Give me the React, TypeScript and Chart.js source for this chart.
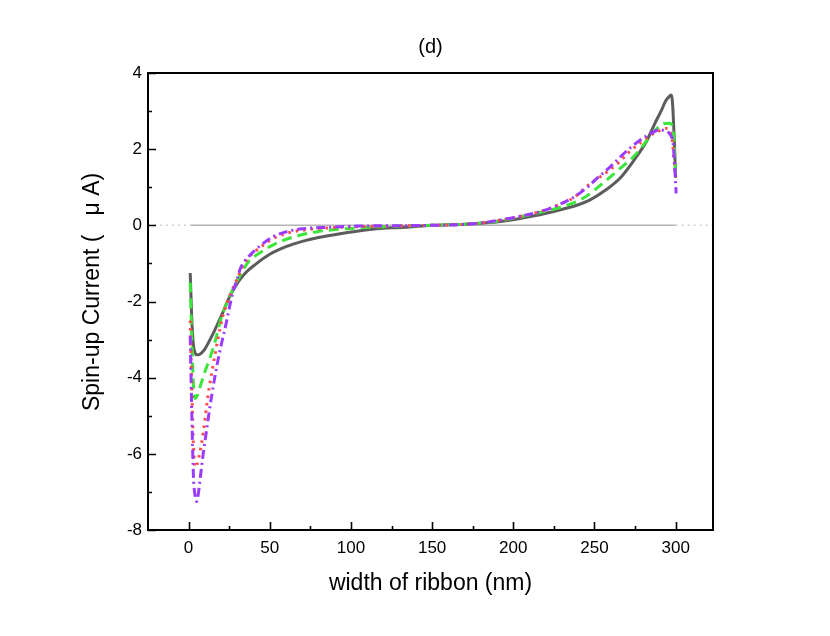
import React, { useEffect, useRef } from "react";
import { Chart, registerables } from "chart.js";

Chart.register(...registerables);

const FONT = "'Liberation Sans', Arial, Helvetica, sans-serif";

const titleText = "(d)";
const xTitle = "width of ribbon (nm)";
const yTitle = "   Spin-up Current (   \u03bc A)";

const xTicks = [0, 50, 100, 150, 200, 250, 300];
const xMinorTicks = [25, 75, 125, 175, 225, 275];
const yTicks = [-8, -6, -4, -2, 0, 2, 4];
const yMinorTicks = [-7, -5, -3, -1, 1, 3];

const grayX = [1, 2, 3, 4, 5, 6, 8, 10, 12, 15, 18, 21, 25, 30, 35, 41, 50, 60, 70, 80, 95, 113, 133, 150, 170, 192, 213, 229, 240, 247, 256, 266, 276, 282, 287, 291, 294, 296, 297, 298, 299, 300];
const grayY = [-1.25, -2.5, -3.15, -3.35, -3.4, -3.4, -3.35, -3.25, -3.1, -2.85, -2.58, -2.3, -1.9, -1.52, -1.25, -1.03, -0.76, -0.56, -0.42, -0.32, -0.21, -0.1, -0.05, 0, 0.03, 0.1, 0.25, 0.41, 0.54, 0.66, 0.9, 1.25, 1.81, 2.2, 2.66, 3.0, 3.28, 3.38, 3.42, 3.25, 2.4, 1.25];

const greenX = [1, 2, 3, 4, 5, 7, 10, 13, 16, 20, 23, 26, 30, 37, 44, 50, 58, 66, 80, 97, 113, 130, 150, 170, 192, 210, 227, 243, 255, 266, 274, 280, 284, 288, 292, 296, 298, 299, 300];
const greenY = [-1.5, -3.0, -4.2, -4.55, -4.5, -4.25, -3.85, -3.5, -3.1, -2.45, -2.1, -1.8, -1.45, -0.95, -0.72, -0.56, -0.4, -0.29, -0.16, -0.09, -0.05, -0.02, 0, 0.03, 0.12, 0.28, 0.45, 0.71, 1.1, 1.5, 1.8, 2.1, 2.33, 2.52, 2.66, 2.68, 2.6, 2.2, 1.3];

const redX = [1, 2, 3, 4, 5, 7, 9, 12, 15, 18, 21, 26, 30, 33, 37, 45, 52, 62, 70, 82, 100, 125, 150, 175, 192, 208, 221, 230, 237, 246, 258, 265, 271, 278, 285, 291, 295, 297, 298, 299, 300];
const redY = [-2.5, -4.3, -5.8, -6.35, -6.3, -5.95, -5.45, -4.45, -3.7, -3.0, -2.4, -1.78, -1.4, -1.1, -0.85, -0.55, -0.35, -0.19, -0.13, -0.08, -0.04, -0.02, 0, 0.04, 0.14, 0.27, 0.42, 0.58, 0.72, 1.05, 1.41, 1.65, 1.91, 2.16, 2.38, 2.5, 2.55, 2.4, 2.2, 1.7, 1.3];

const purpleX = [1, 2, 3, 4, 5, 6, 7, 9, 10.5, 12.5, 14.5, 16.5, 19, 23, 27, 30, 32, 37, 45, 52, 62, 70, 82, 104, 150, 175, 192, 208, 221, 230, 237, 245, 252, 260, 266, 271, 277, 280, 285, 290, 293, 297, 298.4, 299.3, 300.3];
const purpleY = [-2.9, -5.0, -6.6, -7.1, -7.25, -7.05, -6.7, -6.0, -5.55, -4.95, -4.4, -3.9, -3.35, -2.6, -1.8, -1.4, -1.12, -0.82, -0.51, -0.3, -0.15, -0.09, -0.06, -0.02, 0, 0.04, 0.14, 0.27, 0.42, 0.58, 0.73, 0.98, 1.25, 1.55, 1.8, 2.0, 2.2, 2.29, 2.42, 2.51, 2.48, 2.36, 2.16, 1.63, 0.84];

const zeroX = [1, 300];
const zeroDotLeftX = [-25, 1];
const zeroDotRightX = [300, 323];

const pts = (xs: number[], ys: number[]) => xs.map((x, i) => ({ x, y: ys[i] }));
const zeros = (xs: number[]) => xs.map((x) => ({ x, y: 0 }));

const framePlugin = {
  id: "frameTicks",
  afterDatasetsDraw(chart: any) {
    const { ctx, chartArea, scales } = chart;
    const { left, right, top, bottom } = chartArea;
    const xs = scales.x;
    const ys = scales.y;
    ctx.save();
    ctx.strokeStyle = "#000";
    ctx.lineWidth = 1.6;
    ctx.beginPath();
    xTicks.forEach((v) => {
      const p = Math.round(xs.getPixelForValue(v)) + 0.5;
      ctx.moveTo(p, bottom);
      ctx.lineTo(p, bottom - 8);
    });
    xMinorTicks.forEach((v) => {
      const p = Math.round(xs.getPixelForValue(v)) + 0.5;
      ctx.moveTo(p, bottom);
      ctx.lineTo(p, bottom - 4);
    });
    yTicks.forEach((v) => {
      const p = Math.round(ys.getPixelForValue(v)) + 0.5;
      ctx.moveTo(left, p);
      ctx.lineTo(left + 8, p);
    });
    yMinorTicks.forEach((v) => {
      const p = Math.round(ys.getPixelForValue(v)) + 0.5;
      ctx.moveTo(left, p);
      ctx.lineTo(left + 4, p);
    });
    ctx.stroke();
    ctx.lineWidth = 2;
    ctx.strokeRect(left, top, right - left, bottom - top);
    ctx.restore();
  },
};

export default function App() {
  const canvasRef = useRef<HTMLCanvasElement | null>(null);

  useEffect(() => {
    const canvas = canvasRef.current;
    if (!canvas) return;
    const common = { pointRadius: 0, pointHoverRadius: 0, fill: false, cubicInterpolationMode: "monotone" as const };
    const chart = new Chart(canvas, {
      type: "line",
      data: {
        datasets: [
          { ...common, label: "purple", data: pts(purpleX, purpleY), borderColor: "#9a3cff", borderWidth: 3, borderDash: [9, 4, 2, 4], order: 0 },
          { ...common, label: "red", data: pts(redX, redY), borderColor: "#ff4a4a", borderWidth: 3, borderDash: [2.5, 5], order: 1 },
          { ...common, label: "green", data: pts(greenX, greenY), borderColor: "#3ae63a", borderWidth: 3, borderDash: [10, 6], order: 2 },
          { ...common, label: "gray", data: pts(grayX, grayY), borderColor: "#5c5c5c", borderWidth: 3, order: 3 },
          { ...common, label: "zero", data: zeros(zeroX), borderColor: "#b4b4b4", borderWidth: 1.5, order: 4, cubicInterpolationMode: "default" },
          { ...common, label: "zeroL", data: zeros(zeroDotLeftX), borderColor: "#d0d0d0", borderWidth: 1.5, borderDash: [2, 4], order: 5, cubicInterpolationMode: "default" },
          { ...common, label: "zeroR", data: zeros(zeroDotRightX), borderColor: "#d0d0d0", borderWidth: 1.5, borderDash: [2, 4], order: 6, cubicInterpolationMode: "default" },
        ],
      },
      options: {
        responsive: false,
        animation: false,
        devicePixelRatio: 1,
        layout: { padding: { left: 0, right: 117, top: 0, bottom: 0 } },
        plugins: {
          legend: { display: false },
          tooltip: { enabled: false },
          title: {
            display: true,
            text: titleText,
            fullSize: false,
            color: "#000",
            font: { family: FONT, size: 20, weight: "normal" },
            padding: { top: 35, bottom: 14 },
          },
        },
        scales: {
          x: {
            type: "linear",
            min: -25,
            max: 323,
            grid: { display: false, drawTicks: false },
            border: { display: false },
            afterBuildTicks: (scale: any) => {
              scale.ticks = xTicks.map((v) => ({ value: v }));
            },
            afterFit: (scale: any) => {
              scale.height = 106;
            },
            ticks: { color: "#000", font: { family: FONT, size: 17 }, padding: 8, maxRotation: 0, autoSkip: false },
            title: { display: true, text: xTitle, color: "#000", font: { family: FONT, size: 23 }, padding: { top: 0, bottom: 39 } },
          },
          y: {
            type: "linear",
            min: -8,
            max: 4,
            grid: { display: false, drawTicks: false },
            border: { display: false },
            afterBuildTicks: (scale: any) => {
              scale.ticks = yTicks.map((v) => ({ value: v }));
            },
            afterFit: (scale: any) => {
              scale.width = 148;
            },
            ticks: { color: "#000", font: { family: FONT, size: 17 }, padding: 6, autoSkip: false },
            title: { display: true, text: yTitle, color: "#000", font: { family: FONT, size: 23 }, padding: { top: 79, bottom: 0 } },
          },
        },
      },
      plugins: [framePlugin],
    });
    return () => chart.destroy();
  }, []);

  return (
    <div style={{ position: "fixed", left: 0, top: 0, width: 830, height: 636, background: "#fff" }}>
      <canvas ref={canvasRef} width={830} height={636} style={{ width: 830, height: 636, display: "block" }} />
    </div>
  );
}
